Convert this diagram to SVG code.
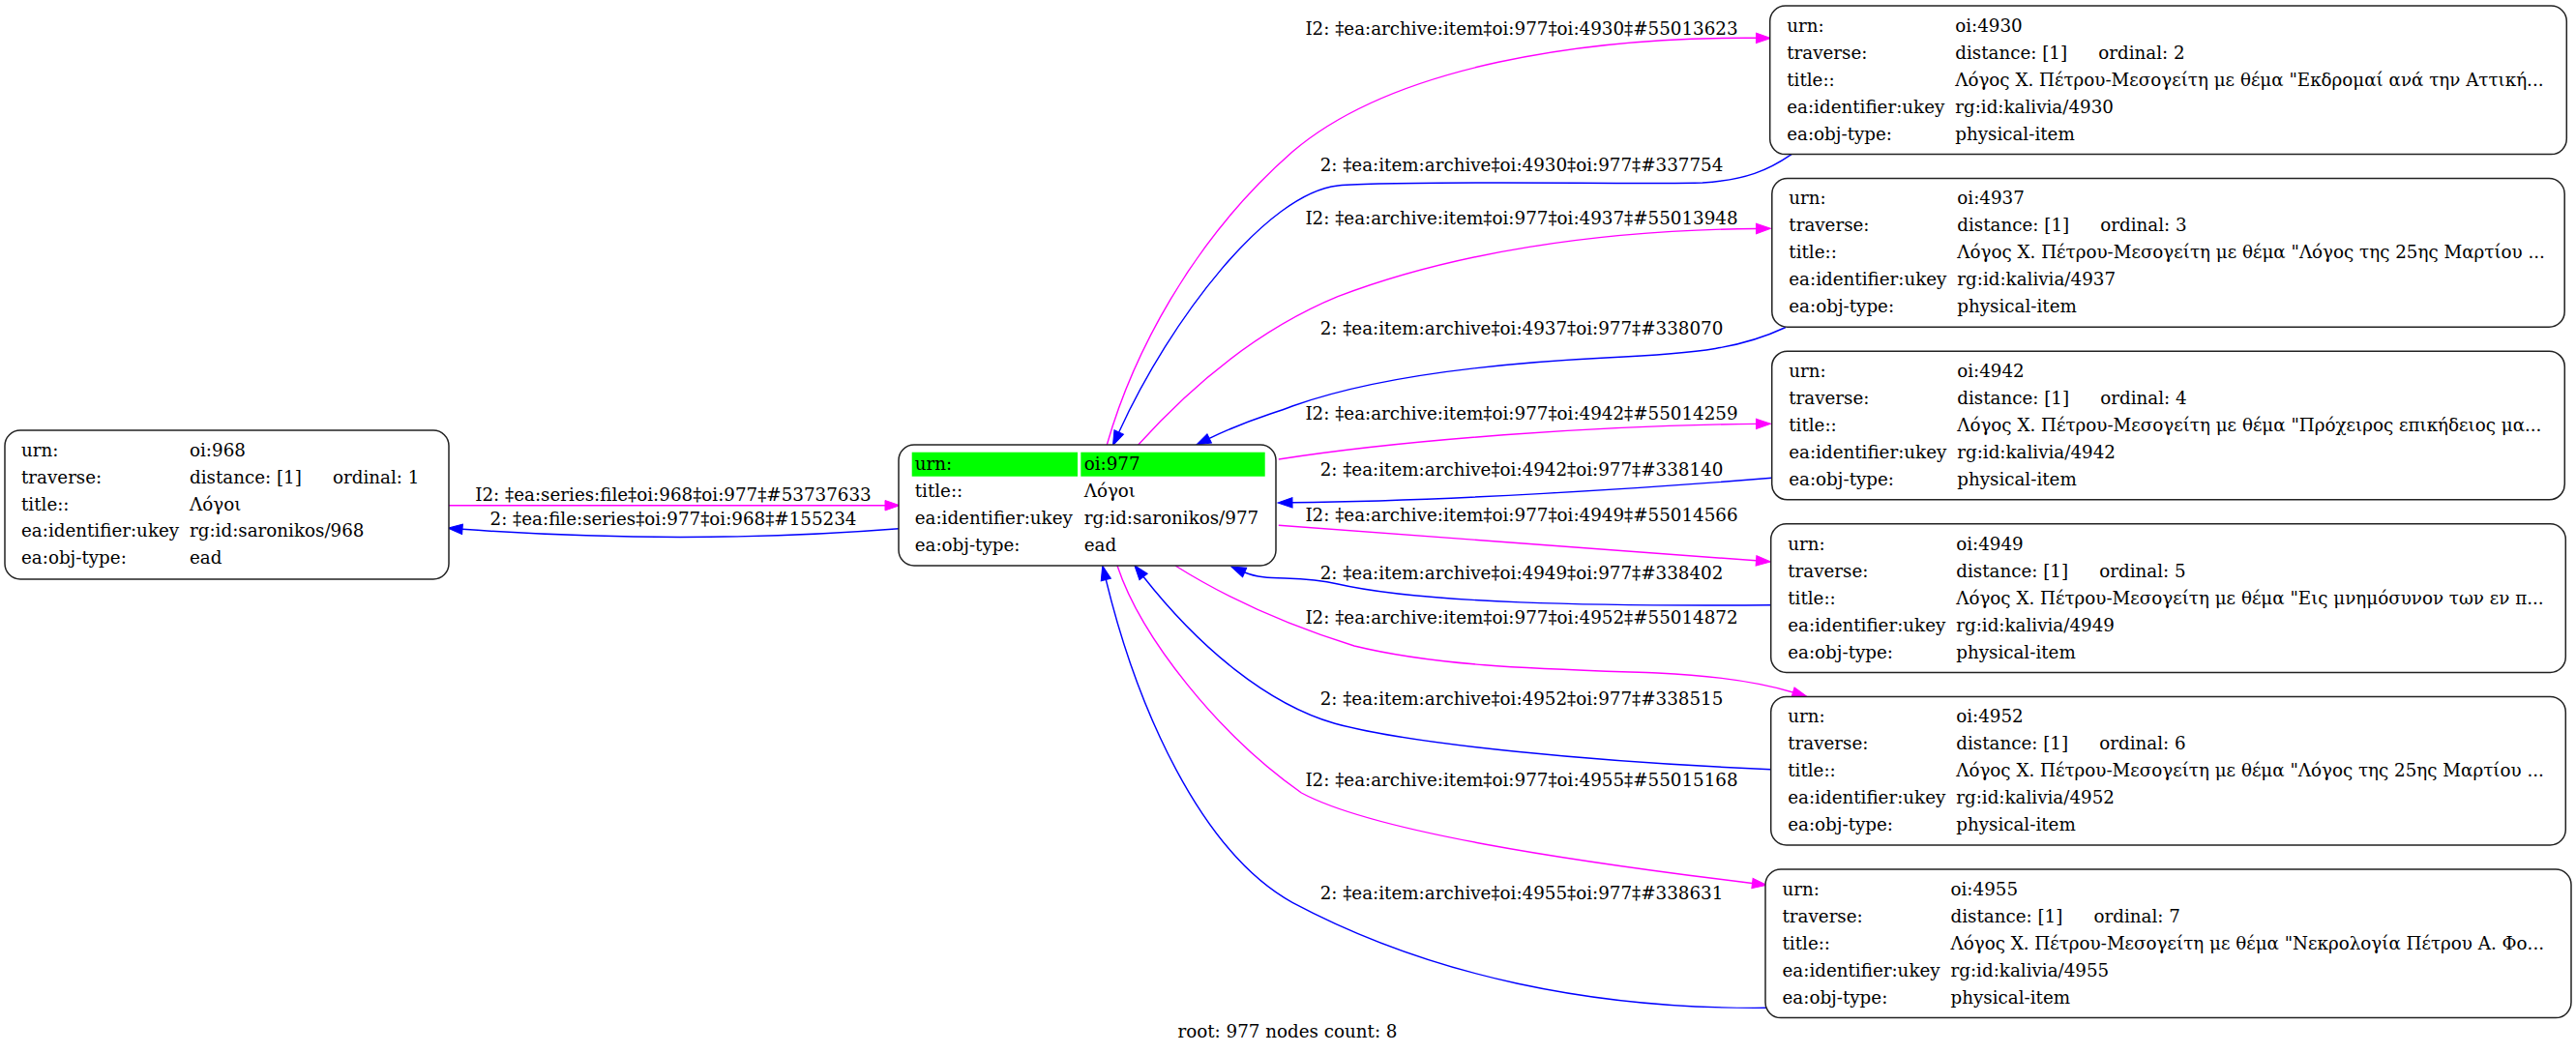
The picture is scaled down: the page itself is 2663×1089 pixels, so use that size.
<svg xmlns="http://www.w3.org/2000/svg" width="2663" height="1089" viewBox="0 0 2663 1089">
<style>
text { font-family: "DejaVu Serif", "Liberation Serif", serif; font-size: 18.3px; fill: #000; }
.box { fill: #fff; stroke: #222; stroke-width: 1.5; }
.hl { fill: #00ff00; }
.m { fill: none; stroke: #ff00ff; stroke-width: 1.4; marker-end: url(#am); }
.b { fill: none; stroke: #0000ff; stroke-width: 1.4; marker-end: url(#ab); }
.lbl { text-anchor: middle; }
</style>
<defs>
<marker id="am" markerUnits="userSpaceOnUse" viewBox="0 0 16 12" markerWidth="16" markerHeight="12" refX="0" refY="6" orient="auto" overflow="visible"><path d="M0,0.8 L15,6 L0,11.2 Z" fill="#ff00ff" stroke="#ff00ff" stroke-width="1"/></marker>
<marker id="ab" markerUnits="userSpaceOnUse" viewBox="0 0 16 12" markerWidth="16" markerHeight="12" refX="0" refY="6" orient="auto" overflow="visible"><path d="M0,0.8 L15,6 L0,11.2 Z" fill="#0000ff" stroke="#0000ff" stroke-width="1"/></marker>
</defs>
<rect x="0" y="0" width="2663" height="1089" fill="#fff"/>

<g id="connectors">
<path class="m" d="M464,522.7 L915,522.7"/>
<path class="b" d="M929,546.7 C760,560 600,556 478,547.3"/>
<path class="m" d="M1144.3,460 C1170,370 1230,250 1336,157 C1440,68 1640,38 1815.5,39.3"/>
<path class="b" d="M1852,159.6 C1828,176 1805,186 1760,189 C1700,191 1450,186 1383,192 C1310,200 1210,330 1156.7,447"/>
<path class="m" d="M1176.7,460 C1220,412 1290,345 1383,306.7 C1500,262 1650,238 1815.5,236.5"/>
<path class="b" d="M1846,338.5 C1800,360 1760,365 1660,370 C1540,376 1420,390 1336,420 C1310,430 1290,434 1250.2,453.4"/>
<path class="m" d="M1321.8,475 C1450,455 1650,440 1815.5,438.4"/>
<path class="b" d="M1831.5,494.3 C1700,505 1500,518 1336,519.8"/>
<path class="m" d="M1321.8,543.3 L1815.5,579.8"/>
<path class="b" d="M1830.7,625.7 C1650,627 1470,624 1383,604 C1340,594 1310,602 1286.7,592"/>
<path class="m" d="M1215,585 C1250,607 1310,640 1400,668 C1490,690 1600,692 1713.5,696 C1780,699 1820,706 1853.5,716"/>
<path class="b" d="M1830.5,795.7 C1650,788 1460,770 1380,748.3 C1310,728 1240,670 1182.1,596.5"/>
<path class="m" d="M1155,585 C1180,660 1260,760 1345.4,820 C1420,860 1620,890 1811.5,913.5"/>
<path class="b" d="M1826.7,1042.3 C1650,1044 1480,1010 1336,933.3 C1240,880 1175,730 1143.3,599.5"/>

<text class="lbl" x="696" y="518.3">I2: ‡ea:series:file‡oi:968‡oi:977‡#53737633</text>
<text class="lbl" x="696" y="542.7">2: ‡ea:file:series‡oi:977‡oi:968‡#155234</text>
<text class="lbl" x="1573" y="36">I2: ‡ea:archive:item‡oi:977‡oi:4930‡#55013623</text>
<text class="lbl" x="1573" y="176.7">2: ‡ea:item:archive‡oi:4930‡oi:977‡#337754</text>
<text class="lbl" x="1573" y="231.7">I2: ‡ea:archive:item‡oi:977‡oi:4937‡#55013948</text>
<text class="lbl" x="1573" y="346">2: ‡ea:item:archive‡oi:4937‡oi:977‡#338070</text>
<text class="lbl" x="1573" y="434">I2: ‡ea:archive:item‡oi:977‡oi:4942‡#55014259</text>
<text class="lbl" x="1573" y="491.7">2: ‡ea:item:archive‡oi:4942‡oi:977‡#338140</text>
<text class="lbl" x="1573" y="539.3">I2: ‡ea:archive:item‡oi:977‡oi:4949‡#55014566</text>
<text class="lbl" x="1573" y="599.3">2: ‡ea:item:archive‡oi:4949‡oi:977‡#338402</text>
<text class="lbl" x="1573" y="645">I2: ‡ea:archive:item‡oi:977‡oi:4952‡#55014872</text>
<text class="lbl" x="1573" y="729.3">2: ‡ea:item:archive‡oi:4952‡oi:977‡#338515</text>
<text class="lbl" x="1573" y="813.3">I2: ‡ea:archive:item‡oi:977‡oi:4955‡#55015168</text>
<text class="lbl" x="1573" y="930">2: ‡ea:item:archive‡oi:4955‡oi:977‡#338631</text>
</g>

<g id="node-968" transform="translate(5,445)">
<rect class="box" x="0" y="0" width="459" height="154" rx="16"/>
<text x="17" y="26.7">urn:</text><text x="191" y="26.7">oi:968</text>
<text x="17" y="54.6">traverse:</text><text x="191" y="54.6">distance: [1]</text><text x="339" y="54.6">ordinal: 1</text>
<text x="17" y="82.5">title::</text><text x="191" y="82.5">Λόγοι</text>
<text x="17" y="110.4">ea:identifier:ukey</text><text x="191" y="110.4">rg:id:saronikos/968</text>
<text x="17" y="138.3">ea:obj-type:</text><text x="191" y="138.3">ead</text>
</g>

<g id="node-977" transform="translate(929,460)">
<rect class="box" x="0" y="0" width="390" height="125" rx="16"/>
<rect class="hl" x="13.7" y="7.7" width="171.3" height="25"/>
<rect class="hl" x="188.3" y="7.7" width="190.4" height="25"/>
<text x="16.7" y="26.2">urn:</text><text x="191.7" y="26.2">oi:977</text>
<text x="16.7" y="54">title::</text><text x="191.7" y="54">Λόγοι</text>
<text x="16.7" y="81.8">ea:identifier:ukey</text><text x="191.7" y="81.8">rg:id:saronikos/977</text>
<text x="16.7" y="109.6">ea:obj-type:</text><text x="191.7" y="109.6">ead</text>
</g>

<g id="node-4930" transform="translate(1829.7,6)">
<rect class="box" x="0" y="0" width="823.6" height="153.6" rx="16"/>
<text x="17.5" y="26.8">urn:</text><text x="191.5" y="26.8">oi:4930</text>
<text x="17.5" y="54.8">traverse:</text><text x="191.5" y="54.8">distance: [1]</text><text x="339.5" y="54.8">ordinal: 2</text>
<text x="17.5" y="82.8">title::</text><text x="191.5" y="82.8">Λόγος Χ. Πέτρου-Μεσογείτη με θέμα "Εκδρομαί ανά την Αττική...</text>
<text x="17.5" y="110.8">ea:identifier:ukey</text><text x="191.5" y="110.8">rg:id:kalivia/4930</text>
<text x="17.5" y="138.8">ea:obj-type:</text><text x="191.5" y="138.8">physical-item</text>
</g>

<g id="node-4937" transform="translate(1831.8,184.6)">
<rect class="box" x="0" y="0" width="819.4" height="153.6" rx="16"/>
<text x="17.5" y="26.8">urn:</text><text x="191.5" y="26.8">oi:4937</text>
<text x="17.5" y="54.8">traverse:</text><text x="191.5" y="54.8">distance: [1]</text><text x="339.5" y="54.8">ordinal: 3</text>
<text x="17.5" y="82.8">title::</text><text x="191.5" y="82.8">Λόγος Χ. Πέτρου-Μεσογείτη με θέμα "Λόγος της 25ης Μαρτίου ...</text>
<text x="17.5" y="110.8">ea:identifier:ukey</text><text x="191.5" y="110.8">rg:id:kalivia/4937</text>
<text x="17.5" y="138.8">ea:obj-type:</text><text x="191.5" y="138.8">physical-item</text>
</g>

<g id="node-4942" transform="translate(1831.7,363.2)">
<rect class="box" x="0" y="0" width="819.6" height="153.6" rx="16"/>
<text x="17.5" y="26.8">urn:</text><text x="191.5" y="26.8">oi:4942</text>
<text x="17.5" y="54.8">traverse:</text><text x="191.5" y="54.8">distance: [1]</text><text x="339.5" y="54.8">ordinal: 4</text>
<text x="17.5" y="82.8">title::</text><text x="191.5" y="82.8">Λόγος Χ. Πέτρου-Μεσογείτη με θέμα "Πρόχειρος επικήδειος μα...</text>
<text x="17.5" y="110.8">ea:identifier:ukey</text><text x="191.5" y="110.8">rg:id:kalivia/4942</text>
<text x="17.5" y="138.8">ea:obj-type:</text><text x="191.5" y="138.8">physical-item</text>
</g>

<g id="node-4949" transform="translate(1830.7,541.8)">
<rect class="box" x="0" y="0" width="821.6" height="153.6" rx="16"/>
<text x="17.5" y="26.8">urn:</text><text x="191.5" y="26.8">oi:4949</text>
<text x="17.5" y="54.8">traverse:</text><text x="191.5" y="54.8">distance: [1]</text><text x="339.5" y="54.8">ordinal: 5</text>
<text x="17.5" y="82.8">title::</text><text x="191.5" y="82.8">Λόγος Χ. Πέτρου-Μεσογείτη με θέμα "Εις μνημόσυνον των εν π...</text>
<text x="17.5" y="110.8">ea:identifier:ukey</text><text x="191.5" y="110.8">rg:id:kalivia/4949</text>
<text x="17.5" y="138.8">ea:obj-type:</text><text x="191.5" y="138.8">physical-item</text>
</g>

<g id="node-4952" transform="translate(1830.7,720.4)">
<rect class="box" x="0" y="0" width="821.6" height="153.6" rx="16"/>
<text x="17.5" y="26.8">urn:</text><text x="191.5" y="26.8">oi:4952</text>
<text x="17.5" y="54.8">traverse:</text><text x="191.5" y="54.8">distance: [1]</text><text x="339.5" y="54.8">ordinal: 6</text>
<text x="17.5" y="82.8">title::</text><text x="191.5" y="82.8">Λόγος Χ. Πέτρου-Μεσογείτη με θέμα "Λόγος της 25ης Μαρτίου ...</text>
<text x="17.5" y="110.8">ea:identifier:ukey</text><text x="191.5" y="110.8">rg:id:kalivia/4952</text>
<text x="17.5" y="138.8">ea:obj-type:</text><text x="191.5" y="138.8">physical-item</text>
</g>

<g id="node-4955" transform="translate(1825,899)">
<rect class="box" x="0" y="0" width="833" height="153.6" rx="16"/>
<text x="17.5" y="26.8">urn:</text><text x="191.5" y="26.8">oi:4955</text>
<text x="17.5" y="54.8">traverse:</text><text x="191.5" y="54.8">distance: [1]</text><text x="339.5" y="54.8">ordinal: 7</text>
<text x="17.5" y="82.8">title::</text><text x="191.5" y="82.8">Λόγος Χ. Πέτρου-Μεσογείτη με θέμα "Νεκρολογία Πέτρου Α. Φο...</text>
<text x="17.5" y="110.8">ea:identifier:ukey</text><text x="191.5" y="110.8">rg:id:kalivia/4955</text>
<text x="17.5" y="138.8">ea:obj-type:</text><text x="191.5" y="138.8">physical-item</text>
</g>

<text id="graph-label" class="lbl" x="1331" y="1073.3">root: 977 nodes count: 8</text>
</svg>
